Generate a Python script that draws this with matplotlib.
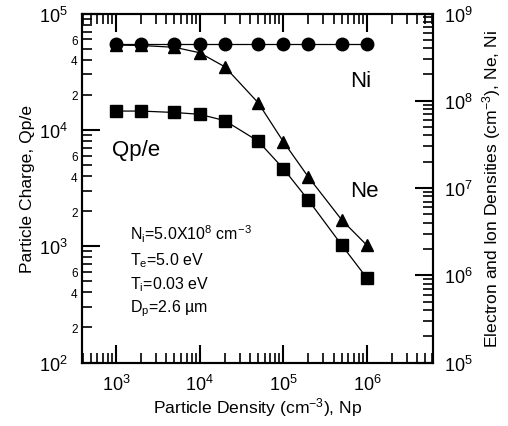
import numpy as np
import matplotlib
matplotlib.use("Agg")
import matplotlib.pyplot as plt
from matplotlib.ticker import LogLocator, FuncFormatter, NullFormatter

plt.rcParams['font.family'] = ['Liberation Sans', 'DejaVu Sans']
plt.rcParams['mathtext.fontset'] = 'custom'
plt.rcParams['mathtext.rm'] = 'Liberation Sans'
plt.rcParams['mathtext.it'] = 'Liberation Sans:italic'
plt.rcParams['mathtext.bf'] = 'Liberation Sans:bold'
plt.rcParams['mathtext.sf'] = 'Liberation Sans'
plt.rcParams['mathtext.default'] = 'regular'

# ---- data ----
particle_density = [1e3, 2e3, 5e3, 1e4, 2e4, 5e4, 1e5, 2e5, 5e5, 1e6]
charge_qpe = [14500, 14500, 14100, 13600, 12000, 8000, 4650, 2480, 1020, 530]
ion_density_ni = [4.5e8] * 10
electron_density_ne = [4.35e8, 4.3e8, 4.1e8, 3.55e8, 2.45e8, 9.5e7, 3.4e7, 1.33e7, 4.3e6, 2.2e6]

fig = plt.figure(figsize=(5.08, 4.27), dpi=100)
L, R, T, B = 81.7, 433.3, 14.5, 363.5
ax = fig.add_axes([L / 508, 1 - B / 427, (R - L) / 508, (B - T) / 427])
ax2 = ax.twinx()

ax.set_xscale('log')
ax.set_yscale('log')
ax2.set_yscale('log')
ax.set_xlim(390, 6.2e6)
ax.set_ylim(1e2, 1e5)
ax2.set_ylim(1e5, 1e9)

ax.plot(particle_density, charge_qpe, color='black', lw=0.9, marker='s', ms=8.4,
        markerfacecolor='black', markeredgecolor='black')
ax2.plot(particle_density, ion_density_ni, color='black', lw=0.9, marker='o', ms=9.0)
ax2.plot(particle_density, electron_density_ne, color='black', lw=0.9, marker='^', ms=9.2)

for a in (ax, ax2):
    for s in a.spines.values():
        s.set_linewidth(1.5)

ax.xaxis.set_major_locator(LogLocator(base=10, numticks=20))
ax.xaxis.set_minor_locator(LogLocator(base=10, subs=np.arange(2, 10), numticks=20))
ax.xaxis.set_minor_formatter(NullFormatter())
ax.yaxis.set_major_locator(LogLocator(base=10, numticks=20))
ax.yaxis.set_minor_locator(LogLocator(base=10, subs=np.arange(2, 10), numticks=20))
ax2.yaxis.set_major_locator(LogLocator(base=10, numticks=20))
ax2.yaxis.set_minor_locator(LogLocator(base=10, subs=np.arange(2, 10), numticks=20))
ax2.yaxis.set_minor_formatter(NullFormatter())


def minor_fmt(v, pos):
    m = int(round(v / 10 ** np.floor(np.log10(v) + 1e-9)))
    return str(m) if m in (2, 4, 6) else ''


ax.yaxis.set_minor_formatter(FuncFormatter(minor_fmt))

ax.tick_params(axis='both', which='major', direction='in', length=13, width=1.5,
               top=True, right=False, labelsize=13)
ax.tick_params(axis='both', which='minor', direction='in', length=7, width=1.2,
               top=True, right=False)
ax.tick_params(axis='x', which='major', pad=8)
ax.tick_params(axis='y', which='major', pad=10)
ax.tick_params(axis='y', which='minor', labelsize=8.5, pad=3)
ax2.tick_params(axis='y', which='major', direction='in', length=13, width=1.5,
                labelsize=13, pad=8)
ax2.tick_params(axis='y', which='minor', direction='in', length=7, width=1.2)

ax.set_xlabel('Particle Density (cm$^{-3}$), Np', fontsize=12.6, labelpad=1)
ax.set_ylabel('Particle Charge, Qp/e', fontsize=12.6, labelpad=3)
ax2.set_ylabel('Electron and Ion Densities (cm$^{-3}$), Ne, Ni', fontsize=12.6, labelpad=5)

ax.text(0.763, 0.793, 'Ni', transform=ax.transAxes, fontsize=16, va='baseline')
ax.text(0.763, 0.478, 'Ne', transform=ax.transAxes, fontsize=16, va='baseline')
ax.text(0.086, 0.595, 'Qp/e', transform=ax.transAxes, fontsize=16, va='baseline')

notes = [r'N$_i$=5.0X10$^8$ cm$^{-3}$', r'T$_e$=5.0 eV', r'T$_i$=0.03 eV',
         'D$_p$=2.6 \u00b5m']
note_y = [0.352, 0.281, 0.214, 0.147]
for t, yy in zip(notes, note_y):
    ax.text(0.137, yy, t, transform=ax.transAxes, fontsize=11.5, va='baseline')

fig.savefig('out.png', dpi=100)
